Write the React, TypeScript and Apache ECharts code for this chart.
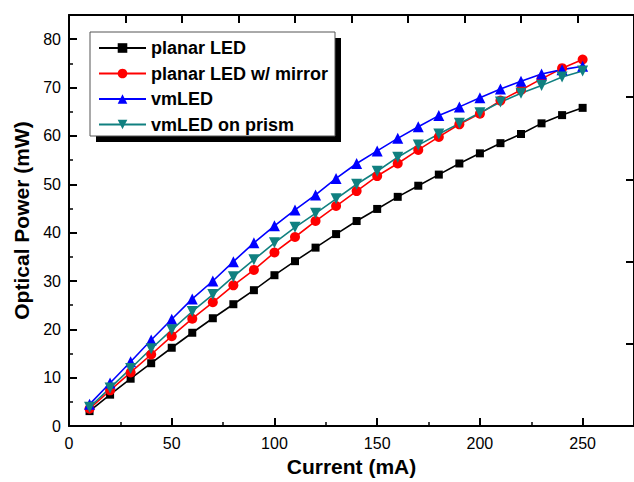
import React, { useEffect, useRef } from "react";
import * as echarts from "echarts";

const currents = [10, 20, 30, 40, 50, 60, 70, 80, 90, 100, 110, 120, 130, 140, 150, 160, 170, 180, 190, 200, 210, 220, 230, 240, 250];
const planarLED = [3.1, 6.5, 9.8, 13.0, 16.2, 19.3, 22.3, 25.2, 28.1, 31.2, 34.1, 36.9, 39.7, 42.4, 44.9, 47.4, 49.7, 52.0, 54.3, 56.4, 58.5, 60.4, 62.6, 64.3, 65.8];
const planarMirror = [3.6, 7.4, 11.1, 14.8, 18.6, 22.2, 25.6, 29.1, 32.3, 35.9, 39.1, 42.4, 45.5, 48.6, 51.7, 54.3, 57.1, 59.8, 62.4, 64.6, 67.3, 69.5, 71.8, 74.0, 75.8];
const vmLED = [4.5, 8.9, 13.3, 17.8, 22.1, 26.3, 30.0, 34.0, 37.9, 41.4, 44.7, 47.8, 51.2, 54.3, 56.9, 59.5, 61.9, 64.2, 66.0, 67.9, 69.7, 71.3, 72.8, 73.7, 74.4];
const vmPrism = [3.9, 7.9, 11.9, 16.0, 19.9, 23.7, 27.2, 30.9, 34.4, 37.9, 41.1, 44.0, 47.0, 50.0, 52.7, 55.6, 58.1, 60.4, 62.6, 64.8, 67.0, 68.8, 70.4, 72.2, 73.4];

const seriesNames = ["planar LED", "planar LED w/ mirror", "vmLED", "vmLED on prism"];
const seriesColors = ["#000000", "#ff0000", "#0000ff", "#108080"];

const FONT = "'Liberation Sans', Arial, sans-serif";

export default function App() {
  const ref = useRef<HTMLDivElement>(null);
  useEffect(() => {
    if (!ref.current) return;
    const chart = echarts.init(ref.current, null, { renderer: "svg" });
    const pairs = (ys: number[]) => currents.map((x, i) => [x, ys[i]]);
    const mk = (name: string, ys: number[], color: string, symbol: string, size: number, rot = 0) => ({
      name,
      type: "line",
      data: pairs(ys),
      symbol,
      symbolSize: size,
      symbolRotate: rot,
      showAllSymbol: true,
      lineStyle: { color, width: 1.6 },
      itemStyle: { color },
      z: 3,
    });
    chart.setOption({
      animation: false,
      backgroundColor: "#ffffff",
      grid: { left: 69, top: 15, right: -6, bottom: 49 },
      graphic: [
        { type: "rect", shape: { x: 96, y: 38, width: 245, height: 104 }, style: { fill: "#000" }, z: 10 },
        { type: "rect", shape: { x: 90, y: 32, width: 245, height: 104 }, style: { fill: "#fff", stroke: "#555", lineWidth: 1 }, z: 11 },
      ],
      legend: {
        show: true,
        orient: "vertical",
        left: 90,
        top: 32,
        padding: [7, 6, 6, 8],
        itemWidth: 47,
        itemHeight: 12,
        itemGap: 7.5,
        z: 20,
        data: seriesNames,
        textStyle: { fontFamily: FONT, fontWeight: "bold", fontSize: 18, color: "#000", lineHeight: 18 },
      },
      xAxis: [
        {
          type: "value",
          min: 0,
          max: 275,
          interval: 50,
          position: "bottom",
          name: "Current (mA)",
          nameLocation: "middle",
          nameGap: 25,
          nameTextStyle: { fontFamily: FONT, fontWeight: "bold", fontSize: 21, color: "#000" },
          axisLine: { show: true, lineStyle: { color: "#000", width: 2 } },
          axisTick: { show: true, inside: true, length: 8, lineStyle: { color: "#000", width: 2 } },
          minorTick: { show: true, splitNumber: 2, length: 4, lineStyle: { color: "#000", width: 1.5 } },
          axisLabel: { show: true, showMaxLabel: false, margin: 9, fontFamily: FONT, fontSize: 16, color: "#000" },
          splitLine: { show: false },
        },
        {
          type: "value",
          min: 0,
          max: 10,
          interval: 1,
          position: "top",
          axisLine: { show: true, onZero: false, lineStyle: { color: "#000", width: 2 } },
          axisTick: { show: true, inside: true, length: 8, lineStyle: { color: "#000", width: 2 } },
          axisLabel: { show: false },
          splitLine: { show: false },
        },
      ],
      yAxis: [
        {
          type: "value",
          min: 0,
          max: 85,
          interval: 10,
          position: "left",
          name: "Optical Power (mW)",
          nameLocation: "middle",
          nameGap: 36,
          nameTextStyle: { fontFamily: FONT, fontWeight: "bold", fontSize: 21, color: "#000" },
          axisLine: { show: true, lineStyle: { color: "#000", width: 2 } },
          axisTick: { show: true, inside: true, length: 8, lineStyle: { color: "#000", width: 2 } },
          minorTick: { show: true, splitNumber: 2, length: 4, lineStyle: { color: "#000", width: 1.5 } },
          axisLabel: { show: true, showMaxLabel: false, margin: 8, fontFamily: FONT, fontSize: 16, color: "#000" },
          splitLine: { show: false },
        },
        {
          type: "value",
          min: 0,
          max: 5,
          interval: 1,
          position: "right",
          axisLine: { show: true, onZero: false, lineStyle: { color: "#000", width: 2 } },
          axisTick: { show: true, inside: true, length: 8, lineStyle: { color: "#000", width: 2 } },
          axisLabel: { show: false },
          splitLine: { show: false },
        },
      ],
      series: [
        mk(seriesNames[0], planarLED, seriesColors[0], "rect", 8),
        mk(seriesNames[1], planarMirror, seriesColors[1], "circle", 10),
        mk(seriesNames[2], vmLED, seriesColors[2], "triangle", 11),
        mk(seriesNames[3], vmPrism, seriesColors[3], "triangle", 11, 180),
      ],
    });
    return () => chart.dispose();
  }, []);
  return <div ref={ref} style={{ position: "fixed", left: 0, top: 0, width: 634, height: 482 }} />;
}
